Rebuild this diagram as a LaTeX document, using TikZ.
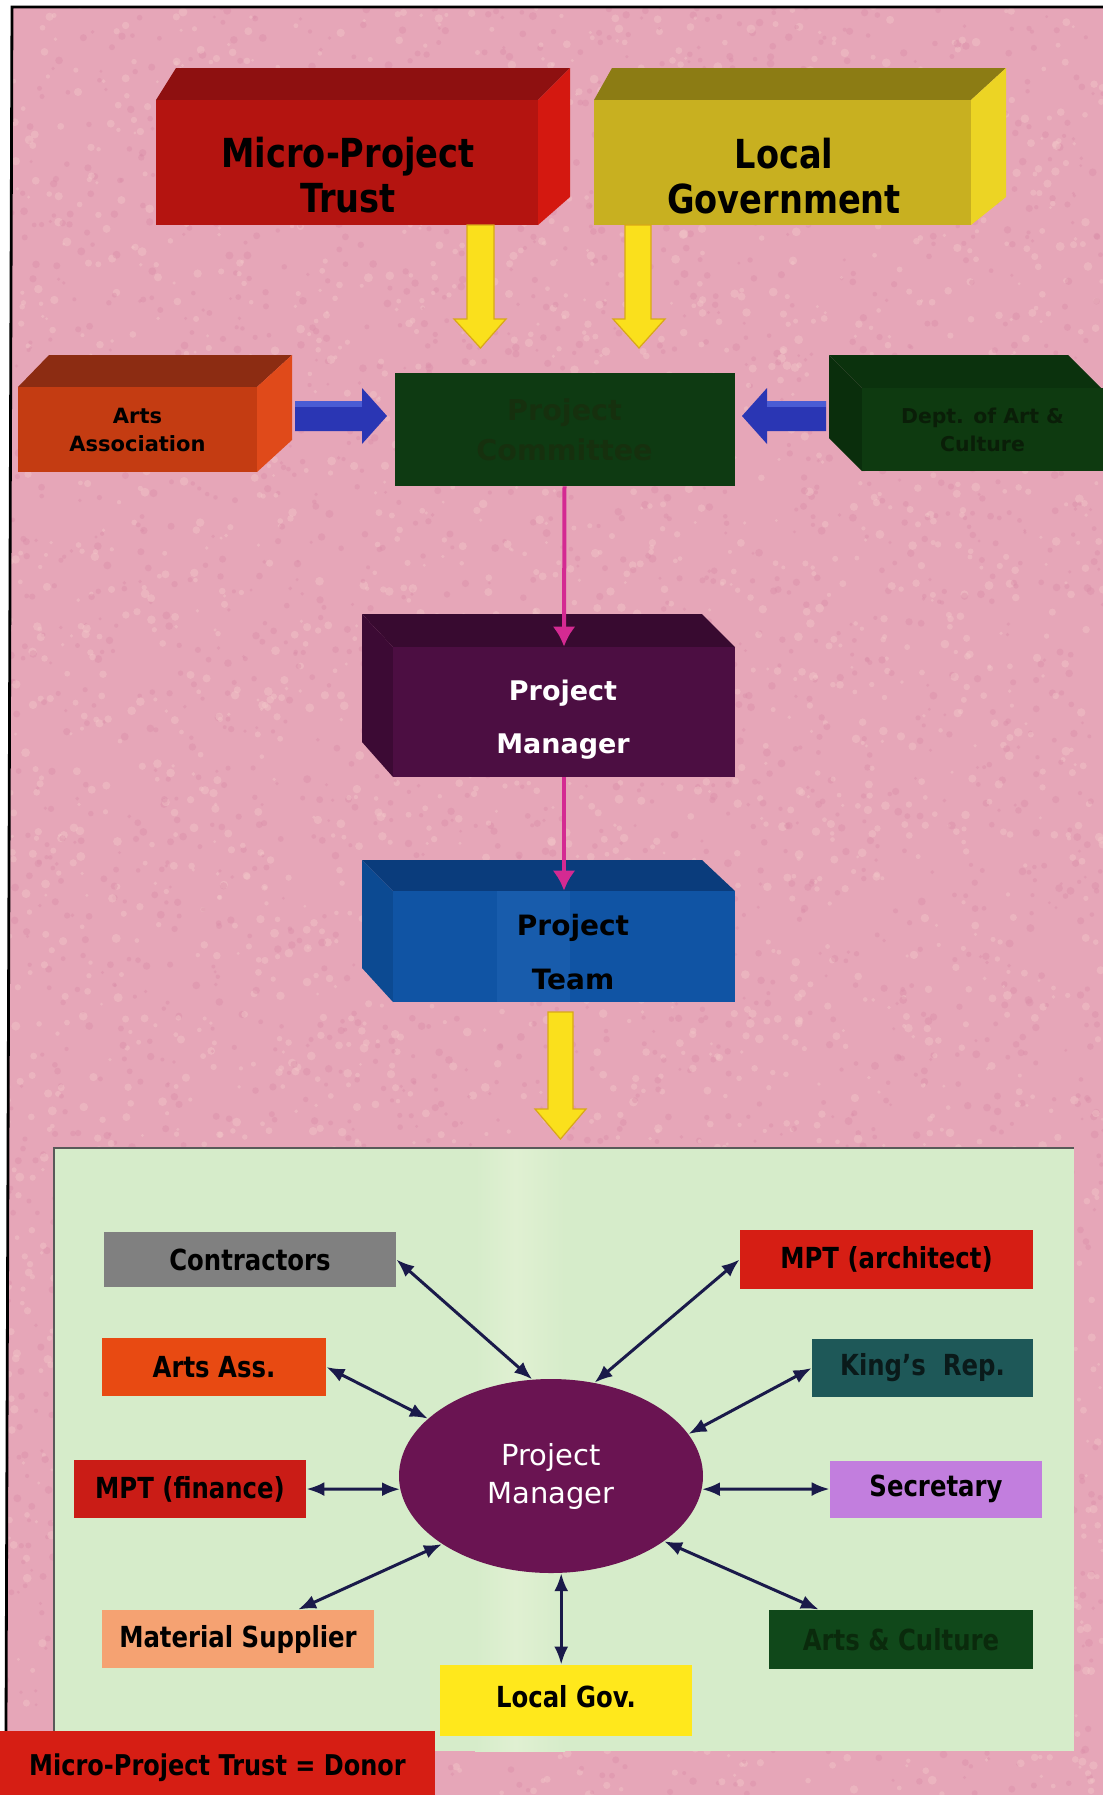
\documentclass[tikz,border=0pt]{standalone}
\usepackage{fontspec}
\setmainfont{DejaVu Sans}
\newfontfamily\nar{DejaVu Sans}[FakeStretch=0.84]
\usetikzlibrary{arrows.meta,calc,shapes.geometric}
\definecolor{bgpink}{HTML}{E6A6B8}
\definecolor{bgLight}{HTML}{F2C6C8}
\definecolor{bgDark}{HTML}{DA8CA8}
\definecolor{mptFront}{HTML}{B41410}
\definecolor{mptTop}{HTML}{8E1010}
\definecolor{mptSide}{HTML}{D41810}
\definecolor{lgFront}{HTML}{C8B020}
\definecolor{lgTop}{HTML}{8C7C14}
\definecolor{lgSide}{HTML}{ECD424}
\definecolor{aaFront}{HTML}{C43C12}
\definecolor{aaTop}{HTML}{8C2C12}
\definecolor{aaSide}{HTML}{E04A1A}
\definecolor{pcFront}{HTML}{0E3A12}
\definecolor{pcText}{HTML}{16300E}
\definecolor{dpFront}{HTML}{0E3A10}
\definecolor{dpTop}{HTML}{0B320D}
\definecolor{dpLeft}{HTML}{0A2E0C}
\definecolor{dpText}{HTML}{0A1E08}
\definecolor{pmFront}{HTML}{4C0E42}
\definecolor{pmTop}{HTML}{380A30}
\definecolor{pmLeft}{HTML}{3C0A34}
\definecolor{ptFront}{HTML}{1054A4}
\definecolor{ptBand}{HTML}{185CAC}
\definecolor{ptTop}{HTML}{0A3C7C}
\definecolor{ptLeft}{HTML}{0C4A92}
\definecolor{yel}{HTML}{FAE01C}
\definecolor{yelEdge}{HTML}{D8A818}
\definecolor{blu}{HTML}{2A36B4}
\definecolor{bluLight}{HTML}{4A5CD4}
\definecolor{mag}{HTML}{D42A92}
\definecolor{panel}{HTML}{D6ECCA}
\definecolor{panelLight}{HTML}{E0F0D2}
\definecolor{navy}{HTML}{1A1A4A}
\definecolor{ellFill}{HTML}{6A1452}
\definecolor{cGray}{HTML}{808080}
\definecolor{cRed}{HTML}{D61E14}
\definecolor{cOrange}{HTML}{E84A12}
\definecolor{cTeal}{HTML}{1E5858}
\definecolor{cRed2}{HTML}{CA1C16}
\definecolor{cLav}{HTML}{C27EDE}
\definecolor{cPeach}{HTML}{F5A272}
\definecolor{cGreen}{HTML}{10481A}
\definecolor{cYel}{HTML}{FFE81C}
\definecolor{acText}{HTML}{0A2A0C}
\definecolor{kText}{HTML}{0A1A1A}
\tikzset{
  face/.style={rectangle, inner sep=0pt, draw=none},
  toptext/.style={align=center, inner sep=0pt, text=black,
    font=\nar\bfseries\fontsize{20}{22.5}\selectfont},
  lbox/.style={rectangle, inner sep=0pt, draw=none, text=black,
    font=\nar\bfseries\fontsize{14.5}{17}\selectfont},
  yarrow/.style={fill=yel, draw=yelEdge, line width=0.6pt},
  barrow/.style={fill=blu},
  magarr/.style={draw=mag, line width=2pt, -{Latex[length=10pt,width=11.5pt]}},
  biarr/.style={draw=navy, line width=1.5pt,
    {Latex[length=9pt,width=7pt]}-{Latex[length=9pt,width=7pt]}}
}
\begin{document}
\begin{tikzpicture}[x=0.5pt,y=-0.5pt]
\useasboundingbox (0,0) rectangle (1103,1795);
\fill[white] (0,0) rectangle (1103,1795);
\fill[bgpink] (12,7) -- (1103,7) -- (1103,1795) -- (6,1795) -- cycle;
% mottled texture of the background
\begin{scope}
\clip (12,7) -- (1103,7) -- (1103,1795) -- (6,1795) -- cycle;
\pgfmathsetseed{11}
\foreach \i in {1,...,3000}{
  \pgfmathsetmacro\xa{rnd*1103}\pgfmathsetmacro\ya{rnd*1795}\pgfmathsetmacro\ra{1.5+rnd*3}
  \fill[bgLight, opacity=0.45] (\xa,\ya) circle (\ra);
  \pgfmathsetmacro\xb{rnd*1103}\pgfmathsetmacro\yb{rnd*1795}\pgfmathsetmacro\rb{1.5+rnd*2.5}
  \fill[bgDark, opacity=0.4] (\xb,\yb) circle (\rb);
}
\end{scope}
\draw[black, line width=1.4pt] (6,1731) -- (12,7) -- (1103,7);

% ---------- Micro-Project Trust ----------
\fill[mptTop] (156,100) -- (176,68) -- (570,68) -- (538,100) -- cycle;
\fill[mptSide] (538,100) -- (570,68) -- (570,197) -- (538,225) -- cycle;
\node[face, fill=mptFront, minimum width=191pt, minimum height=62.5pt] (mptbox) at (347,162.5) {};
\node[toptext] (mpttxt) at (348,175) {Micro-Project\\Trust};

% ---------- Local Government ----------
\fill[lgTop] (594,100) -- (612,68) -- (1006,68) -- (971,100) -- cycle;
\fill[lgSide] (971,100) -- (1006,68) -- (1006,197) -- (971,225) -- cycle;
\node[face, fill=lgFront, minimum width=188.5pt, minimum height=62.5pt] (lgbox) at (782.5,162.5) {};
\node[toptext] (lgtxt) at (784,176) {Local\\Government};

% yellow block arrows
\draw[yarrow] (467,225) -- (494,225) -- (494,319) -- (506,319) -- (480.5,348) -- (454,319) -- (467,319) -- cycle;
\draw[yarrow] (625,225) -- (651,225) -- (651,319) -- (665,319) -- (639,348) -- (613,319) -- (625,319) -- cycle;

% ---------- Arts Association ----------
\fill[aaTop] (18,387) -- (49,355) -- (292,355) -- (257,387) -- cycle;
\fill[aaSide] (257,387) -- (292,355) -- (292,440) -- (257,472) -- cycle;
\node[face, fill=aaFront, minimum width=119.5pt, minimum height=42.5pt, align=center,
  text=black, font=\bfseries\fontsize{10.5}{14}\selectfont] (aa) at (137.5,429.5) {Arts\\Association};

% ---------- Project Committee ----------
\node[face, fill=pcFront, minimum width=170pt, minimum height=56.5pt, align=center,
  text=pcText, font=\bfseries\fontsize{14.3}{20}\selectfont] (pc) at (564.5,429.5) {Project\\Committee};

% ---------- Dept. of Art & Culture ----------
\fill[dpTop] (829,355) -- (1068,355) -- (1101,388) -- (862,388) -- cycle;
\fill[dpLeft] (829,355) -- (862,388) -- (862,471) -- (829,438) -- cycle;
\node[face, fill=dpFront, minimum width=120.5pt, minimum height=41.5pt, align=center,
  text=dpText, font=\bfseries\fontsize{10.2}{14}\selectfont] (dept) at (982.5,429.5) {Dept. of Art \&\\Culture};

% blue block arrows
\fill[barrow] (295,401) -- (362,401) -- (362,388) -- (387,416) -- (362,444) -- (362,431) -- (295,431) -- cycle;
\fill[bluLight] (295,401) -- (362,401) -- (362,407) -- (295,407) -- cycle;
\fill[barrow] (826,401) -- (767,401) -- (767,388) -- (742,416) -- (767,444) -- (767,431) -- (826,431) -- cycle;
\fill[bluLight] (826,401) -- (767,401) -- (767,407) -- (826,407) -- cycle;

% ---------- Project Manager box ----------
\fill[pmTop] (362,614) -- (702,614) -- (735,647) -- (393,647) -- cycle;
\fill[pmLeft] (362,614) -- (393,647) -- (393,777) -- (362,742) -- cycle;
\node[face, fill=pmFront, minimum width=171pt, minimum height=65pt] (pmbox) at (564,712) {};
\node[align=center, inner sep=0pt, text=white,
  font=\bfseries\fontsize{13.5}{26.5}\selectfont] (pmtxt) at (563,720) {Project\\Manager};

% ---------- Project Team box ----------
\fill[ptTop] (362,860) -- (702,860) -- (735,891) -- (393,891) -- cycle;
\fill[ptLeft] (362,860) -- (393,891) -- (393,1002) -- (362,968) -- cycle;
\node[face, fill=ptFront, minimum width=171pt, minimum height=55.5pt] (ptbox) at (564,946.5) {};
\fill[ptBand] (497,891) rectangle (570,1002);
\node[align=center, inner sep=0pt, text=black,
  font=\bfseries\fontsize{14}{27}\selectfont] (pttxt) at (573,952) {Project\\Team};

% magenta arrows
\draw[magarr] (pc.south) -- (pmbox.north);
\draw[magarr] (pmbox.south) -- (ptbox.north);

% yellow arrow to panel
\draw[yarrow] (548,1012) -- (573,1012) -- (573,1109) -- (586,1109) -- (560.5,1139) -- (535,1109) -- (548,1109) -- cycle;

% ---------- lower panel ----------
\fill[panel] (54,1148) rectangle (1074,1751);
\shade[left color=panel, right color=panelLight] (475,1149) rectangle (515,1751);
\shade[left color=panelLight, right color=panel] (515,1149) rectangle (565,1751);
\draw[black!65, line width=0.8pt] (54,1751) -- (54,1148) -- (1074,1148);

\node[ellipse, fill=ellFill, minimum width=152pt, minimum height=97pt, inner sep=0pt,
  align=center, text=white, font=\fontsize{14.5}{19}\selectfont] (pm) at (551,1476) {Project\\Manager};

\node[lbox, fill=cGray,  minimum width=146pt,   minimum height=27.5pt] (contr) at (250,1259.5) {Contractors};
\node[lbox, fill=cRed,   minimum width=146.5pt, minimum height=29.5pt] (arch)  at (886.5,1259.5) {MPT (architect)};
\node[lbox, fill=cOrange,minimum width=112pt,   minimum height=29pt]   (artsass) at (214,1367) {Arts Ass.};
\node[lbox, fill=cTeal,  minimum width=110.5pt, minimum height=29pt, text=kText] (king) at (922.5,1368) {King’s~~Rep.};
\node[lbox, fill=cRed2,  minimum width=116pt,   minimum height=29pt]   (fin)   at (190,1489) {MPT (finance)};
\node[lbox, fill=cLav,   minimum width=106pt,   minimum height=28.5pt] (sec)   at (936,1489) {Secretary};
\node[lbox, fill=cPeach, minimum width=136pt,   minimum height=29pt]   (mat)   at (238,1639) {Material Supplier};
\node[lbox, fill=cGreen, minimum width=132pt,   minimum height=29.5pt, text=acText] (ac) at (901,1639.5) {Arts \& Culture};
\node[lbox, fill=cYel,   minimum width=126pt,   minimum height=35.5pt] (lgov)  at (566,1700.5) {\raisebox{4pt}{Local Gov.}};

\node[lbox, fill=cRed, minimum width=217.5pt, minimum height=37pt,
  font=\nar\bfseries\fontsize{14.3}{16}\selectfont] (donor) at (217.5,1768) {Micro-Project Trust = Donor};

% connectors
\draw[biarr] (contr.east) -- (pm.101);
\draw[biarr] (arch.west) -- (pm.65);
\draw[biarr] (artsass.east) -- (pm.155);
\draw[biarr] (king.west) -- (pm.17);
\draw[biarr] (fin.east) -- (pm.185);
\draw[biarr] (sec.west) -- (pm.-5);
\draw[biarr] ($(mat.north west)!0.72!(mat.north east)$) -- (pm.212);
\draw[biarr] ($(ac.north west)!0.19!(ac.north east)$) -- (pm.330);
\draw[biarr] (pm.276) -- (pm.276 |- lgov.north);
\end{tikzpicture}
\end{document}
